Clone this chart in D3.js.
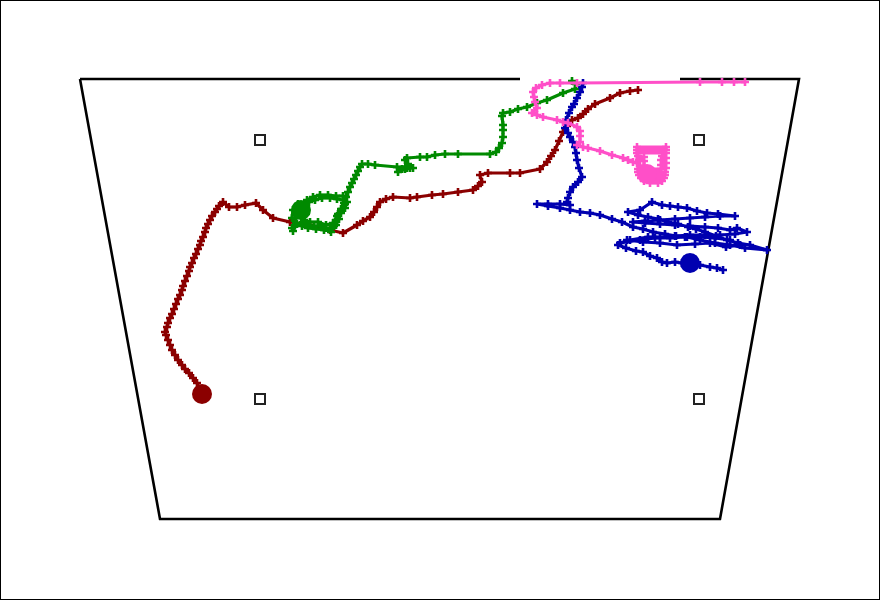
<!DOCTYPE html>
<html><head><meta charset="utf-8">
<script src="https://cdn.jsdelivr.net/npm/d3@7"></script>
<style>html,body{margin:0;padding:0;background:#fff;}svg{display:block;}</style>
</head><body>
<script>
// Arena outline (trapezoid corners) and landmark squares, in arena units
const arenaTopLeft = [[80,79],[520,79]];
const arenaRest = [[680,79],[799,79],[720,519],[160,519],[80,79]];
const landmarks = [[260,140],[699,140],[260,399],[699,399]];

const seriesNames = ["red","green","blue","pink"];
const seriesColors = ["#8b0000","#008a00","#0000b0","#ff4fc8"];

const trackRed = [[202,394],[197,383],[193,378],[189,373],[185,369],[182,365],[178,360],[175,355],[172,350],[170,345],[168,340],[166,335],[165,332],[167,327],[168,323],[170,318],[172,314],[174,309],[176,304],[178,299],[180,295],[182,290],[183,286],[185,281],[187,276],[189,271],[190,267],[192,263],[194,258],[196,254],[198,249],[200,245],[201,241],[203,237],[205,232],[206,228],[208,224],[210,220],[212,216],[215,212],[217,209],[219,206],[223,202],[229,207],[237,207],[245,205],[256,203],[263,210],[273,218],[290,222],[310,225],[330,230],[343,233],[357,225],[363,221],[370,217],[374,212],[377,207],[380,202],[386,199],[393,197],[410,198],[417,197],[432,195],[443,194],[458,192],[473,190],[478,186],[482,182],[480,175],[488,173],[510,173],[520,173],[540,169],[547,162],[551,156],[555,150],[559,141],[563,132],[567,126],[572,120],[578,118],[583,114],[588,109],[595,104],[610,98],[620,93],[630,91],[638,90]];

const trackGreen = [[301,210],[296,218],[292,228],[293,231],[297,224],[303,222],[308,225],[314,226],[320,226],[326,228],[331,232],[334,226],[336,220],[338,214],[342,209],[345,204],[343,200],[337,199],[330,198],[322,198],[315,200],[309,202],[305,206],[298,204],[293,210],[292,218],[296,223],[302,226],[308,228],[316,229],[324,230],[330,229],[336,225],[339,219],[341,213],[345,208],[347,202],[343,196],[336,196],[328,195],[320,195],[313,197],[307,200],[306,214],[304,220],[310,222],[318,222],[326,225],[333,223],[337,216],[341,209],[344,203],[346,197],[348,192],[350,187],[352,183],[354,179],[356,175],[358,171],[360,167],[362,164],[368,164],[375,165],[397,167],[406,167],[410,168],[405,169],[398,172],[402,169],[407,168],[413,168],[408,164],[405,160],[407,158],[420,157],[427,157],[435,155],[445,154],[458,154],[490,154],[496,152],[499,148],[502,143],[503,137],[503,130],[503,125],[502,116],[503,113],[510,112],[518,109],[527,107],[537,103],[547,100],[563,93],[575,89],[576,84],[572,81]];

const trackBlue = [[583,83],[582,87],[580,92],[577,98],[574,104],[572,107],[569,113],[566,120],[565,128],[568,133],[570,137],[573,142],[575,147],[576,153],[577,160],[579,168],[582,177],[578,182],[573,187],[570,192],[568,198],[567,202],[570,205],[560,204],[548,204],[537,204],[548,206],[560,208],[570,210],[580,212],[590,213],[600,215],[612,219],[622,222],[633,227],[643,229],[653,232],[665,234],[676,236],[687,237],[700,240],[715,243],[730,245],[745,248],[767,250],[750,245],[738,243],[727,240],[716,236],[705,232],[696,229],[688,227],[678,224],[668,222],[658,219],[648,217],[638,215],[628,212],[640,210],[652,202],[662,205],[670,206],[678,207],[687,208],[697,211],[707,213],[718,214],[735,216],[720,216],[705,217],[690,218],[675,219],[660,220],[645,221],[633,222],[645,223],[660,224],[675,225],[690,226],[705,227],[718,228],[730,230],[737,228],[747,232],[735,234],[720,235],[705,235],[690,235],[675,236],[660,237],[648,237],[630,240],[620,243],[640,240],[655,238],[670,238],[685,237],[700,237],[715,238],[730,240],[740,245],[726,247],[710,243],[695,244],[677,245],[660,243],[643,242],[627,240],[618,245],[626,248],[636,251],[643,252],[650,256],[657,258],[662,262],[667,263],[675,262],[682,263],[690,263],[700,265],[710,267],[717,268],[723,270]];

const trackPink = [[745,82],[734,82],[722,82],[700,82],[577,83],[560,83],[550,83],[542,85],[536,88],[533,92],[534,97],[535,102],[537,108],[532,113],[537,115],[543,117],[557,120],[563,122],[568,123],[577,127],[580,131],[580,136],[580,142],[577,145],[583,147],[588,148],[600,151],[612,155],[623,158],[628,160],[633,162],[637,163],[637,147],[666,147],[666,150],[637,150],[637,153],[666,153],[662,156],[666,158],[661,160],[666,163],[661,165],[666,168],[661,169],[638,169],[640,166],[644,166],[644,161],[639,160],[644,157],[638,156],[638,172],[665,172],[665,175],[639,175],[641,178],[664,178],[662,181],[644,181],[650,183],[658,183]];

const bigDots = [[202,394],[301,210],[690,263],[647,174]];

const tracks = [trackRed, trackGreen, trackBlue, trackPink];

const W = 880, H = 600;
const x = d3.scaleLinear().domain([0, 880]).range([0, W]);
const y = d3.scaleLinear().domain([0, 600]).range([0, H]);

const svg = d3.select("body").append("svg").attr("width", W).attr("height", H);

svg.append("rect").attr("x",0.5).attr("y",0.5).attr("width",W-1).attr("height",H-1)
  .attr("fill","#fff").attr("stroke","#000").attr("stroke-width",1);

const line = d3.line().x(d => x(d[0])).y(d => y(d[1]));

svg.append("path").datum(arenaTopLeft).attr("d", line)
  .attr("fill","none").attr("stroke","#000").attr("stroke-width",2.6);
svg.append("path").datum(arenaRest).attr("d", line)
  .attr("fill","none").attr("stroke","#000").attr("stroke-width",2.6).attr("stroke-linejoin","miter");

svg.selectAll("rect.lm").data(landmarks).enter().append("rect").attr("class","lm")
  .attr("x", d => x(d[0]) - 5).attr("y", d => y(d[1]) - 5)
  .attr("width",10).attr("height",10)
  .attr("fill","#fff").attr("stroke","#222").attr("stroke-width",2);

tracks.forEach((tr, i) => {
  const g = svg.append("g").attr("class", seriesNames[i]);
  const c = seriesColors[i];
  g.append("path").datum(tr).attr("d", line)
    .attr("fill","none").attr("stroke", c).attr("stroke-width",3.2)
    .attr("stroke-linejoin","round").attr("stroke-linecap","round");
  g.selectAll("path.mk").data(tr).enter().append("path").attr("class","mk")
    .attr("d", d => {
      const px = x(d[0]), py = y(d[1]), s = 4;
      return `M${px-s},${py}H${px+s}M${px},${py-s}V${py+s}`;
    })
    .attr("stroke", c).attr("stroke-width",2.6).attr("fill","none");
  g.append("circle").attr("cx", x(bigDots[i][0])).attr("cy", y(bigDots[i][1]))
    .attr("r", 10).attr("fill", c);
});
</script>
</body></html>
